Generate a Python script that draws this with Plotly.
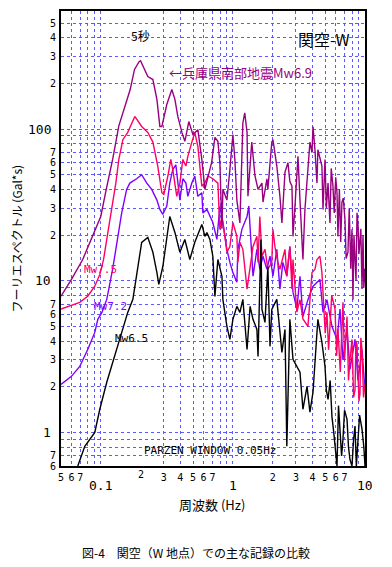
import math
import plotly.graph_objects as go

# ---------------- data ----------------
# 兵庫県南部地震 Mw6.9
freq_hyogo = [0.05, 0.06, 0.073, 0.085, 0.1, 0.11, 0.123, 0.137, 0.152, 0.167, 0.18, 0.195, 0.2, 0.212,
              0.227, 0.248, 0.266, 0.28, 0.29, 0.316, 0.345, 0.364, 0.383, 0.411, 0.433, 0.464, 0.498,
              0.543, 0.582, 0.614, 0.647, 0.69, 0.731, 0.77, 0.797, 0.826, 0.84, 0.901, 0.949, 1.0, 1.035,
              1.072, 1.13, 1.17, 1.19, 1.23, 1.28, 1.3, 1.39, 1.47, 1.55, 1.66, 1.69, 1.81, 1.84, 1.97,
              2.01, 2.15, 2.27, 2.35, 2.48, 2.61, 2.7, 2.8, 2.85, 2.95, 3.11, 3.22, 3.39, 3.51, 3.64, 3.83,
              3.97, 4.04, 4.18, 4.33, 4.4, 4.72, 4.81, 4.98, 5.1, 5.25, 5.43, 5.55, 5.72, 5.85, 6.0, 6.14,
              6.24, 6.4, 6.55, 6.69, 6.85, 7.05, 7.2, 7.43, 7.6, 7.8, 7.97, 8.11, 8.25, 8.4, 8.55, 8.7,
              8.85, 9.0, 9.16, 9.3, 9.49, 9.66, 9.8, 10.0]
amp_hyogo = [7.9, 10.2, 13.8, 19, 26.5, 40, 63, 105, 141, 182, 247, 278, 282, 250,
             222, 212, 157, 104, 104, 145, 182, 157, 121, 95, 83, 112, 92,
             99, 63, 40, 49, 60, 88, 83, 60, 22, 40, 34, 54, 92, 63,
             34, 24, 66, 110, 128, 95, 36, 82, 49, 40, 44, 33, 47, 40, 82,
             85, 57, 36, 24, 52, 60, 45, 42, 19.6, 31, 66, 34, 13.8, 29.5, 47, 82,
             70, 104, 73, 44, 73, 57, 29.5, 63, 30, 44, 24, 55, 42, 28, 48, 38,
             19.6, 40, 18, 33, 35, 25.4, 14, 15.4, 30, 12, 21.8, 7.5, 20, 13.8, 10, 28,
             23.5, 15, 17.9, 22, 8.8, 20, 9, 12]

# Mw7.5
freq_m75 = [0.05, 0.0582, 0.0693, 0.0797, 0.0901, 0.0983, 0.105, 0.111, 0.121, 0.13, 0.137, 0.147, 0.16,
            0.181, 0.204, 0.227, 0.248, 0.27, 0.29, 0.3, 0.322, 0.339, 0.351, 0.376, 0.397, 0.418, 0.441,
            0.456, 0.489, 0.515, 0.543, 0.582, 0.614, 0.647, 0.705, 0.77, 0.797, 0.826, 0.87, 0.901,
            0.949, 1.0, 1.072, 1.091, 1.13, 1.19, 1.28, 1.35, 1.42, 1.52, 1.55, 1.6, 1.66, 1.75, 1.84,
            1.97, 2.01, 2.08, 2.19, 2.27, 2.48, 2.56, 2.7, 2.8, 2.85, 3.05, 3.22, 3.39, 3.7, 3.97, 4.18,
            4.33, 4.56, 4.72, 4.81, 5.0, 5.15, 5.3, 5.43, 5.6, 5.93, 6.1, 6.24, 6.5, 6.81, 7.0, 7.31,
            7.5, 7.7, 7.97, 8.2, 8.4, 8.55, 8.7, 9.0, 9.16, 9.3, 9.49, 9.75, 10.0]
amp_m75 = [6.5, 6.8, 7.2, 7.9, 9.2, 11, 13.8, 18.7, 29.5, 44, 63, 85, 95,
           121, 104, 95, 82, 57, 38, 37, 49, 63, 54, 36, 44, 63, 57,
           66, 82, 95, 77, 42, 44, 49, 47, 44, 21.8, 26.5, 19.6, 15.4,
           16.8, 24.2, 19.6, 13.2, 17.9, 16.1, 8.8, 11.9, 16.8, 19.6, 13.2, 26.5, 14.5, 16.1, 11.9,
           13.2, 21.8, 16.8, 13.2, 11.9, 16.1, 10.7, 16.8, 8.8, 13.8, 6.2, 7.5, 5.6, 5.0, 11.3, 11.9,
           13.8, 14.5, 11.3, 8.4, 4.5, 6.2, 3.5, 5.0, 8.0, 6.5, 3.2, 4.8, 2.5, 7.2, 3.0, 5.8,
           2.2, 3.0, 4.1, 1.7, 1.9, 4.0, 3.8, 1.6, 1.8, 4.2, 3.5, 1.7, 2.1]

# Mw7.2
freq_m72 = [0.05, 0.06, 0.0693, 0.0797, 0.0901, 0.095, 0.102, 0.111, 0.123, 0.135, 0.144, 0.157, 0.166,
            0.187, 0.204, 0.223, 0.243, 0.266, 0.28, 0.295, 0.316, 0.333, 0.351, 0.37, 0.383, 0.397,
            0.418, 0.441, 0.456, 0.489, 0.515, 0.543, 0.582, 0.593, 0.636, 0.705, 0.757, 0.797, 0.84,
            0.901, 0.949, 1.0, 1.072, 1.091, 1.17, 1.28, 1.32, 1.37, 1.42, 1.52, 1.6, 1.69, 1.81, 1.91,
            2.01, 2.15, 2.27, 2.39, 2.56, 2.7, 2.85, 3.05, 3.22, 3.39, 3.7, 4.04, 4.56, 4.81, 5.15,
            5.62, 6.14, 6.47, 6.81, 7.31, 7.7, 8.4, 8.85, 9.49, 10.0]
amp_m72 = [2.07, 2.34, 2.72, 3.52, 4.56, 5.56, 6.18, 7.53, 11.9, 20, 28, 40, 44,
           47, 50, 44, 40, 34, 29.5, 27.4, 31, 44, 54, 58, 44, 34,
           47, 44, 36, 44, 49, 36, 38, 28, 29.5, 24.2, 18.7, 31, 24.2,
           16.1, 13.2, 11.3, 9.75, 16.1, 21.8, 26.5, 31, 18.7, 10.7, 16.1, 11.9, 14.5, 11.9, 14.5,
           10.7, 16.1, 8.8, 13.2, 10.7, 16.8, 8.4, 6.5, 10.7, 5.8, 7.5, 9.2, 10.2, 6.2, 7.5,
           5.0, 4.1, 6.5, 3.0, 4.8, 2.6, 4.1, 2.2, 3.5, 1.9]

# Mw6.5
freq_m65 = [0.067, 0.0757, 0.0901, 0.0983, 0.111, 0.123, 0.132, 0.144, 0.16, 0.175, 0.191, 0.204, 0.227,
            0.248, 0.266, 0.275, 0.295, 0.333, 0.364, 0.397, 0.433, 0.472, 0.515, 0.562, 0.582, 0.614,
            0.636, 0.67, 0.705, 0.731, 0.77, 0.826, 0.84, 0.901, 0.949, 1.0, 1.072, 1.13, 1.19, 1.28,
            1.35, 1.42, 1.52, 1.55, 1.63, 1.66, 1.75, 1.84, 1.91, 1.97, 2.15, 2.35, 2.48, 2.56, 2.7,
            2.85, 3.05, 3.22, 3.39, 3.64, 3.83, 4.04, 4.33, 4.4, 4.72, 4.98, 5.1, 5.25, 5.45, 5.62,
            5.8, 5.93, 6.14, 6.3, 6.47, 6.65, 6.81, 7.0, 7.31, 7.5, 7.7, 7.97, 8.2, 8.4, 8.6, 8.85,
            9.1, 9.49, 9.8, 10.0]
amp_m65 = [0.6, 0.81, 1.0, 1.42, 2.14, 2.9, 3.52, 4.56, 6.18, 7.53, 11.9, 17.9, 19.3,
           15.4, 11.3, 9.45, 12.4, 26.5, 20.8, 15.4, 18.7, 13.8, 17.9, 21.8, 23.5, 19.6,
           20.8, 18.7, 14.5, 7.88, 13.8, 10.7, 7.53, 5.0, 4.1, 5.56, 6.77, 6.18, 7.53, 3.52,
           6.77, 5.56, 4.77, 3.17, 18.7, 6.47, 5.31, 12.4, 3.69, 6.47, 7.53, 3.37, 4.77, 0.81, 5.56,
           3.03, 2.72, 2.49, 1.42, 2.01, 1.36, 1.84, 4.56, 5.56, 3.92, 2.72, 1.9, 1.65, 2.2, 1.27,
           1.0, 0.81, 0.6, 1.5, 1.10, 0.7, 0.9, 1.4, 1.22, 0.8, 0.66, 0.6, 0.9, 1.10, 0.6, 0.9,
           1.3, 1.05, 0.8, 0.6]

# tick labels / gridlines
x_ticks = [0.05, 0.06, 0.07, 0.08, 0.09, 0.1, 0.3, 0.4, 0.5, 0.6, 0.7, 0.8, 0.9,
           1, 2, 3, 4, 5, 6, 7, 8, 9, 10]
x_ticktext = ["5", "6", "7", "", "", "", "3", "4", "5", "6", "7", "", "",
              "", "2", "3", "4", "5", "6", "7", "", "", ""]
x_decades = [0.1, 1, 10]
x_decade_text = ["0.1", "1", "10"]
y_ticks = [0.6, 0.7, 0.8, 0.9, 1, 2, 3, 4, 5, 6, 7, 8, 9, 10, 20, 30, 40, 50, 60, 70, 80, 90,
           100, 200, 300, 400, 500, 600]
y_ticktext = ["6", "7", "", "", "", "2", "3", "4", "5", "6", "7", "", "", "", "2", "3", "4", "5",
              "6", "7", "", "", "", "2", "3", "4", "5", "6"]
y_decades = [1, 10, 100]
y_decade_text = ["1", "10", "100"]

C_HYOGO = "#990080"
C_75 = "#ff0066"
C_72 = "#8000ff"
C_65 = "#000000"
GRID = "#5a5aff"
MONO = "DejaVu Sans Mono, Noto Sans CJK JP"
JP = "Noto Sans CJK JP, DejaVu Sans"

fig = go.Figure()
for f, a, c, n in [(freq_m72, amp_m72, C_72, "Mw7.2"),
                   (freq_m75, amp_m75, C_75, "Mw7.5"),
                   (freq_hyogo, amp_hyogo, C_HYOGO, "Mw6.9"),
                   (freq_m65, amp_m65, C_65, "Mw6.5")]:
    fig.add_trace(go.Scatter(x=f, y=a, mode="lines", name=n, showlegend=False,
                             line=dict(color=c, width=1.4), hoverinfo="skip"))

L = math.log10
ann = []
# decade labels
for v, t in zip(x_decades, x_decade_text):
    ann.append(dict(x=L(v), y=0, xref="x", yref="paper", text=t, showarrow=False,
                    yanchor="top", yshift=-10, font=dict(family=MONO, size=13, color="black")))
ann.append(dict(x=L(0.2), y=0, xref="x", yref="paper", text="2", showarrow=False,
                yanchor="top", yshift=-1, font=dict(family=MONO, size=10, color="black")))
for v, t in zip(y_decades, y_decade_text):
    ann.append(dict(x=0, y=L(v), xref="paper", yref="y", text=t, showarrow=False,
                    xanchor="right", xshift=-8, font=dict(family=MONO, size=13, color="black")))

# texts inside the plot
inner = [
    dict(x=L(0.2), y=L(415), text="5秒", xanchor="center", font=dict(family=JP, size=12, color="black")),
    dict(x=L(0.316), y=L(236), text="←兵庫県南部地震Mw6.9", xanchor="left",
         font=dict(family=JP, size=13, color=C_HYOGO)),
    dict(x=L(3.0), y=L(390), text="関空-W", xanchor="left", font=dict(family=JP, size=16, color="black")),
    dict(x=L(0.0717), y=L(11.9), text="Mw7.5", xanchor="left", font=dict(family=MONO, size=11, color=C_75)),
    dict(x=L(0.0855), y=L(6.77), text="Mw7.2", xanchor="left", font=dict(family=MONO, size=11, color=C_72)),
    dict(x=L(0.123), y=L(4.17), text="Mw6.5", xanchor="left", font=dict(family=MONO, size=11, color="black")),
    dict(x=L(0.204), y=L(0.76), text="PARZEN WINDOW 0.05Hz", xanchor="left",
         font=dict(family=MONO, size=11, color="black")),
]
for a in inner:
    a.update(xref="x", yref="y", showarrow=False, yanchor="middle")
ann += inner

# axis titles and caption (paper coords relative to the plot area: 304 x 455 px)
ann += [
    dict(x=-(61 - 16) / 304, y=0.5, xref="paper", yref="paper", text="フーリエスペクトル (Gal*s)",
         textangle=-90, showarrow=False, xanchor="center", yanchor="middle",
         font=dict(family=JP, size=12, color="black")),
    dict(x=(212 - 61) / 304, y=-(505 - 466) / 455, xref="paper", yref="paper", text="周波数 (Hz)",
         showarrow=False, xanchor="center", yanchor="middle", font=dict(family=JP, size=13, color="black")),
    dict(x=(196 - 61) / 304, y=-(552 - 466) / 455, xref="paper", yref="paper",
         text="図-4　関空（W 地点）での主な記録の比較",
         showarrow=False, xanchor="center", yanchor="middle", font=dict(family=JP, size=12, color="black")),
]

# page has an 8px body margin, so the figure is 8px smaller and shifted
fig.update_layout(
    width=384, height=559,
    margin=dict(l=53, r=27, t=3, b=101, autoexpand=False),
    paper_bgcolor="white", plot_bgcolor="white",
    font=dict(family=JP, size=11, color="black"),
    annotations=ann,
    shapes=[dict(type="line", xref="x", yref="paper", x0=L(0.2), x1=L(0.2), y0=0, y1=1,
                 line=dict(color="black", width=1, dash="dot"), layer="above")],
)
fig.update_xaxes(type="log", range=[L(0.05), L(10)], tickvals=x_ticks, ticktext=x_ticktext,
                 showgrid=True, gridcolor=GRID, gridwidth=1, griddash="3px,3px",
                 showline=True, mirror=True, linecolor="black", linewidth=2, ticks="",
                 automargin=False, ticklabelstandoff=1,
                 tickfont=dict(family=MONO, size=10, color="black"), zeroline=False)
fig.update_yaxes(type="log", range=[L(0.6), L(600)], tickvals=y_ticks, ticktext=y_ticktext,
                 showgrid=True, gridcolor=GRID, gridwidth=1, griddash="3px,3px",
                 showline=True, mirror=True, linecolor="black", linewidth=2, ticks="",
                 automargin=False, ticklabelstandoff=1,
                 tickfont=dict(family=MONO, size=10, color="black"), zeroline=False)

fig.write_html("out.html")
